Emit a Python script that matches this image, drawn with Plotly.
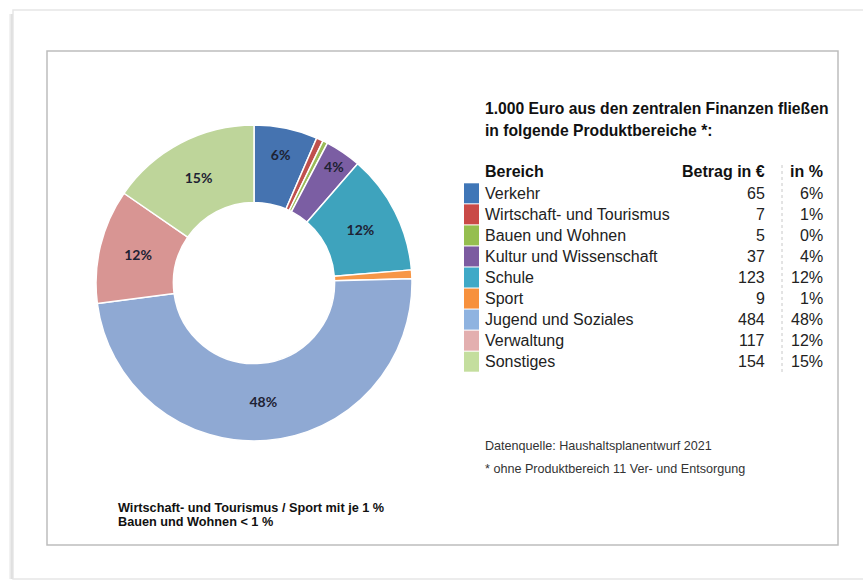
import plotly.graph_objects as go

# Haushaltsplanentwurf 2021: Verteilung von 1.000 Euro auf Produktbereiche
bereiche = [
    "Verkehr",
    "Wirtschaft- und Tourismus",
    "Bauen und Wohnen",
    "Kultur und Wissenschaft",
    "Schule",
    "Sport",
    "Jugend und Soziales",
    "Verwaltung",
    "Sonstiges",
]
betrag = [65, 7, 5, 37, 123, 9, 484, 117, 154]

ring_colors = ["#4573b0", "#c0504d", "#9bbb59", "#7b5ea3", "#3ea3bd",
               "#f79646", "#8fa9d3", "#d89593", "#bed59a"]
swatch_colors = ["#3f76b7", "#c94a47", "#95be4f", "#7c5ba0", "#3fa9c7",
                 "#f7913d", "#8fb3e0", "#e3afaf", "#c4de9e"]

title_lines = ["1.000 Euro aus den zentralen Finanzen fließen",
               "in folgende Produktbereiche *:"]
col_headers = ["Bereich", "Betrag in €", "in %"]
footnotes = ["Datenquelle: Haushaltsplanentwurf 2021",
             "* ohne Produktbereich 11 Ver- und Entsorgung"]
side_note = ["Wirtschaft- und Tourismus / Sport mit je 1 %",
             "Bauen und Wohnen < 1 %"]

W, H = 863, 580
total = sum(betrag)
shares = [v / total for v in betrag]


def px(x):
    return x / W


def py(y):
    return 1 - y / H


fig = go.Figure()

# Donut
cx, cy, r = 254, 283, 158
fig.add_trace(go.Pie(
    labels=bereiche,
    values=betrag,
    sort=False,
    direction="clockwise",
    rotation=0,
    hole=0.51,
    marker=dict(colors=ring_colors, line=dict(color="#ffffff", width=1.5)),
    texttemplate=["%{percent:.0%}" if s >= 0.03 else "" for s in shares],
    textposition="inside",
    insidetextorientation="horizontal",
    textfont=dict(family="Lato", size=14, color="#1e2233", weight="bold"),
    showlegend=False,
    hoverinfo="label+value+percent",
    domain=dict(x=[px(cx - r), px(cx + r)], y=[py(cy + r), py(cy - r)]),
))

shapes = []
annotations = []

# Card with soft left shadow
for i, op in enumerate([0.05, 0.08, 0.12, 0.16]):
    shapes.append(dict(type="rect", xref="paper", yref="paper",
                       x0=px(9 + i), x1=px(10 + i), y0=py(579), y1=py(14),
                       fillcolor=f"rgba(0,0,0,{op})", line=dict(width=0),
                       layer="below"))
shapes.append(dict(type="rect", xref="paper", yref="paper",
                   x0=px(13), x1=px(875), y0=py(579), y1=py(10),
                   fillcolor="rgba(0,0,0,0)",
                   line=dict(color="#e6e6e6", width=1.5)))
# Inner frame
shapes.append(dict(type="rect", xref="paper", yref="paper",
                   x0=px(47), x1=px(838), y0=py(545), y1=py(51),
                   fillcolor="rgba(0,0,0,0)",
                   line=dict(color="#bdbdbd", width=1.5)))

# Title
for i, t in enumerate(title_lines):
    annotations.append(dict(text=t, x=px(483), y=py(108 + 22 * i),
                            xanchor="left", yanchor="middle",
                            font=dict(family="Liberation Sans", size=15.7,
                                      color="#111111", weight="bold")))

# Table header
hdr_y = 172
hdr_font = dict(family="Liberation Sans", size=16, color="#111111",
                weight="bold")
annotations.append(dict(text=col_headers[0], x=px(483), y=py(hdr_y),
                        xanchor="left", yanchor="middle", font=hdr_font))
annotations.append(dict(text=col_headers[1], x=px(767), y=py(hdr_y),
                        xanchor="right", yanchor="middle", font=hdr_font))
annotations.append(dict(text=col_headers[2], x=px(825), y=py(hdr_y),
                        xanchor="right", yanchor="middle", font=hdr_font))

# Dotted column separator
shapes.append(dict(type="line", xref="paper", yref="paper",
                   x0=px(782), x1=px(782), y0=py(372), y1=py(164),
                   line=dict(color="#c8c8c8", width=1, dash="dot")))

# Table rows
row0, step = 193.3, 21.05
row_font = dict(family="Liberation Sans", size=16, color="#222222")
for i, (name, v, s) in enumerate(zip(bereiche, betrag, shares)):
    yc = row0 + i * step
    shapes.append(dict(type="rect", xref="paper", yref="paper",
                       x0=px(464), x1=px(479),
                       y0=py(yc + 10), y1=py(yc - 10),
                       fillcolor=swatch_colors[i], line=dict(width=0)))
    annotations.append(dict(text=name, x=px(483), y=py(yc),
                            xanchor="left", yanchor="middle", font=row_font))
    annotations.append(dict(text=str(v), x=px(767), y=py(yc),
                            xanchor="right", yanchor="middle", font=row_font))
    annotations.append(dict(text=f"{s:.0%}", x=px(825), y=py(yc),
                            xanchor="right", yanchor="middle", font=row_font))

# Footnotes
for i, t in enumerate(footnotes):
    annotations.append(dict(text=t, x=px(483), y=py(446 + 23 * i),
                            xanchor="left", yanchor="middle",
                            font=dict(family="Liberation Sans", size=12.6,
                                      color="#333333")))

for i, t in enumerate(side_note):
    annotations.append(dict(text=t, x=px(116), y=py(508 + 14 * i),
                            xanchor="left", yanchor="middle",
                            font=dict(family="Liberation Sans", size=12.7,
                                      color="#111111", weight="bold")))

for a in annotations:
    a.update(xref="paper", yref="paper", showarrow=False)

fig.update_layout(
    width=W, height=H,
    margin=dict(l=0, r=0, t=0, b=0),
    paper_bgcolor="#ffffff",
    plot_bgcolor="#ffffff",
    shapes=shapes,
    annotations=annotations,
)

fig.write_html("out.html")
